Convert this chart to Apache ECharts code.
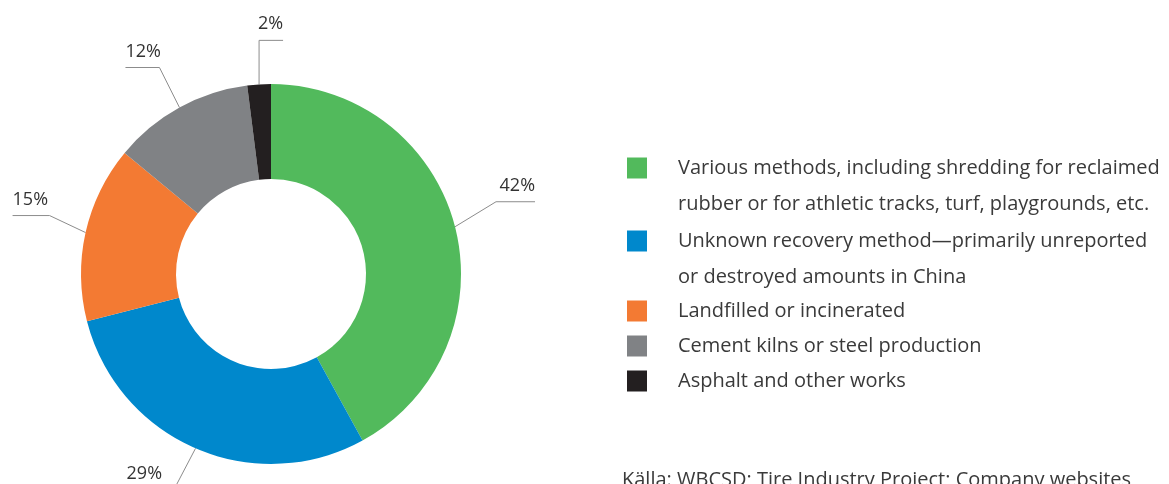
<!DOCTYPE html>
<html>
<head>
<meta charset="utf-8">
<script src="https://cdn.jsdelivr.net/npm/echarts@6/dist/echarts.min.js"></script>
<style>
  html, body { margin: 0; padding: 0; background: #ffffff; }
  #chart { width: 1169px; height: 484px; }
</style>
</head>
<body>
<div id="chart"></div>
<script>
// ---- data ----
const categories = [
  'Various methods, including shredding for reclaimed\nrubber or for athletic tracks, turf, playgrounds, etc.',
  'Unknown recovery method\u2014primarily unreported\nor destroyed amounts in China',
  'Landfilled or incinerated',
  'Cement kilns or steel production',
  'Asphalt and other works'
];
const values = [42, 29, 15, 12, 2];
const sourceText = 'Källa: WBCSD; Tire Industry Project; Company websites';

// ---- styles (leader-line shapes, legend placement) ----
const colors = ['#52BA5C', '#0088CC', '#F37A33', '#808285', '#231F20'];
const leaderVec = [[41, -25], [-22, 42], [-36, -17], [-20, -40], [0, -44]];
const leaderLen2 = [39, 47, 37, 34, 24];
const leaderSide = [1, -1, -1, -1, 1];
const legendCenters = [168, 241, 311, 346, 381];
const FONT = '"Open Sans", sans-serif';

const chart = echarts.init(document.getElementById('chart'), null, { renderer: 'canvas' });

const legends = categories.map((name, i) => {
  const twoLine = name.indexOf('\n') >= 0;
  return {
    show: true,
    orient: 'vertical',
    left: 627,
    top: legendCenters[i] - (twoLine ? 54 : 18),
    padding: 0,
    itemWidth: 20,
    itemHeight: 21,
    icon: 'rect',
    selectedMode: false,
    data: [name],
    formatter: function (n) { return twoLine ? '\n' + n : n; },
    textStyle: {
      fontFamily: FONT,
      fontSize: 20,
      color: '#3a3a3a',
      lineHeight: 36,
      padding: [0, 0, 0, 26]
    }
  };
});

const option = {
  animation: false,
  backgroundColor: '#ffffff',
  color: colors,
  title: {
    text: sourceText,
    left: 622,
    top: 470,
    padding: 0,
    textStyle: { fontFamily: FONT, fontSize: 20, fontWeight: 'normal', color: '#3a3a3a' }
  },
  legend: legends,
  series: [{
    type: 'pie',
    center: [271, 274],
    radius: [95, 190],
    startAngle: 90,
    clockwise: true,
    avoidLabelOverlap: false,
    silent: true,
    data: categories.map((name, i) => ({
      name: name,
      value: values[i],
      itemStyle: { color: colors[i] }
    })),
    label: {
      show: true,
      position: 'outside',
      formatter: '{c}%',
      fontFamily: FONT,
      fontSize: 18,
      color: '#333333'
    },
    labelLine: {
      show: true,
      length: 30,
      length2: 30,
      smooth: false,
      lineStyle: { color: '#8c8c8c', width: 1 }
    },
    labelLayout: function (params) {
      const pts = params.labelLinePoints;
      if (!pts || pts.length < 1) return {};
      const i = params.dataIndex;
      const p0 = pts[0];
      const p1 = [p0[0] + leaderVec[i][0], p0[1] + leaderVec[i][1]];
      const p2 = [p1[0] + leaderSide[i] * leaderLen2[i], p1[1]];
      return {
        x: p2[0],
        y: p1[1] - 7,
        align: leaderSide[i] > 0 ? 'right' : 'left',
        verticalAlign: 'bottom',
        labelLinePoints: [p0, p1, p2]
      };
    }
  }]
};

chart.setOption(option);
</script>
</body>
</html>
